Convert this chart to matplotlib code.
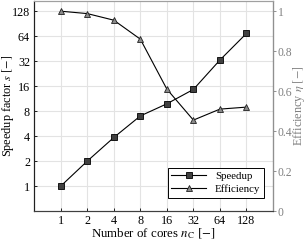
import matplotlib.pyplot as plt
from matplotlib.ticker import FixedLocator, FixedFormatter, NullLocator

plt.rcParams["font.family"] = "Liberation Serif"
plt.rcParams["mathtext.fontset"] = "stix"

cores = [1, 2, 4, 8, 16, 32, 64, 128]
speedup = [1, 2, 3.85, 7.0, 9.8, 14.6, 33, 69]
efficiency = [1.0, 0.988, 0.955, 0.86, 0.61, 0.455, 0.51, 0.52]

x_ticks = [1, 2, 4, 8, 16, 32, 64, 128]
y_ticks = [1, 2, 4, 8, 16, 32, 64, 128]
eff_ticks = [0, 0.2, 0.4, 0.6, 0.8, 1]
eff_labels = ["0", "0.2", "0.4", "0.6", "0.8", "1"]

fig, ax = plt.subplots(figsize=(3.06, 2.42), dpi=100)
fig.subplots_adjust(left=0.112, right=0.892, top=0.995, bottom=0.128)

ax2 = ax.twinx()

l1, = ax.plot(cores, speedup, color="black", lw=0.8, marker="s", ms=4.2,
              mfc="#404040", mec="black", mew=0.6, label="Speedup")
l2, = ax2.plot(cores, efficiency, color="black", lw=0.8, marker="^", ms=5,
               mfc="#8a8a8a", mec="#202020", mew=0.6, label="Efficiency")

ax.set_xscale("log", base=2)
ax.set_yscale("log", base=2)
ax.set_xlim(0.5, 256)
ax.set_ylim(0.5, 2 ** 7.4)
ax2.set_ylim(0, 1.05)

ax.xaxis.set_major_locator(FixedLocator(x_ticks))
ax.xaxis.set_major_formatter(FixedFormatter([str(v) for v in x_ticks]))
ax.xaxis.set_minor_locator(NullLocator())
ax.yaxis.set_major_locator(FixedLocator(y_ticks))
ax.yaxis.set_major_formatter(FixedFormatter([str(v) for v in y_ticks]))
ax.yaxis.set_minor_locator(NullLocator())
ax2.yaxis.set_major_locator(FixedLocator(eff_ticks))
ax2.yaxis.set_major_formatter(FixedFormatter(eff_labels))

ax.grid(True, color="#e3e3e3", lw=0.8)
ax.set_axisbelow(True)

ax.tick_params(axis="both", direction="in", length=2.5, width=0.6,
               labelsize=8.7, pad=3)
ax2.tick_params(axis="y", direction="out", length=2.5, width=0.6,
                labelsize=8.4, colors="#808080", pad=0.8)

ax.spines["left"].set_color("#202020")
ax.spines["bottom"].set_color("#404040")
ax.spines["top"].set_color("#a0a0a0")
ax2.spines["top"].set_color("#a0a0a0")
ax2.spines["right"].set_color("#909090")
ax2.spines["left"].set_color("#202020")
ax2.spines["bottom"].set_color("#404040")

ax.set_xlabel(r"Number of cores $n_\mathrm{C}$ $[-]$", fontsize=9.3)
ax.set_ylabel(r"Speedup factor $s$ $[-]$", fontsize=8.8)
ax2.set_ylabel(r"Efficiency $\eta$ $[-]$", fontsize=8.8, color="#808080")
ax.xaxis.set_label_coords(0.5, -0.072)
ax.yaxis.set_label_coords(-0.078, 0.5)
ax2.yaxis.set_label_coords(1.076, 0.5)

leg = ax2.legend(handles=[l1, l2], loc="lower right", fontsize=7.8,
                 fancybox=False, edgecolor="black", framealpha=1,
                 borderpad=0.35, labelspacing=0.3, handlelength=3.2,
                 bbox_to_anchor=(0.985, 0.038))
leg.get_frame().set_linewidth(0.7)

fig.savefig("out.png", dpi=100)
